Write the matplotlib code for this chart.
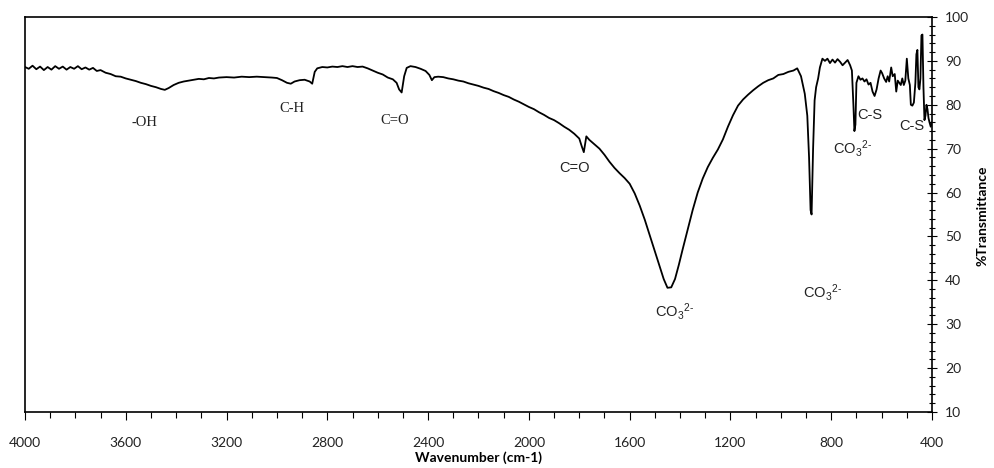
import matplotlib
matplotlib.use("Agg")
import matplotlib.pyplot as plt
from matplotlib.ticker import MultipleLocator

plt.rcParams['mathtext.fontset'] = 'custom'
plt.rcParams['mathtext.rm'] = 'Liberation Sans'
plt.rcParams['mathtext.it'] = 'Liberation Sans:italic'
plt.rcParams['mathtext.default'] = 'rm'

wavenumber = [4000, 3985, 3970, 3955, 3940, 3925, 3910, 3895, 3880, 3865, 3850, 3835, 3820, 3805,
              3790, 3775, 3760, 3745, 3730, 3715, 3700, 3680, 3660, 3640, 3620, 3600, 3580, 3560,
              3540, 3520, 3500, 3480, 3460,
              3445, 3430, 3410, 3390, 3370, 3350, 3330, 3310, 3290, 3270, 3250, 3230, 3200, 3170,
              3140, 3110, 3080, 3050, 3020, 3000, 2980, 2960, 2945, 2930, 2910, 2890, 2870, 2860,
              2850, 2840, 2820, 2800, 2780, 2760, 2740, 2720, 2700, 2680, 2660, 2640, 2620, 2600,
              2580, 2560, 2540, 2525, 2515, 2505, 2495, 2485, 2470, 2450, 2430, 2410, 2395, 2385,
              2375, 2360, 2340, 2320, 2300, 2280, 2260, 2240, 2220, 2200, 2180, 2160, 2140, 2120,
              2100, 2080, 2060, 2040, 2020, 2000, 1980, 1960, 1940, 1920, 1900, 1880, 1860, 1840,
              1820, 1800, 1790, 1782, 1772, 1760, 1740, 1720, 1700, 1680, 1660, 1640, 1620, 1600,
              1580, 1560, 1540, 1520, 1500, 1480, 1465, 1450, 1435, 1420, 1405, 1390, 1370, 1350,
              1330, 1310, 1290, 1270, 1250, 1230, 1210, 1190, 1170, 1150, 1130, 1110, 1090, 1070,
              1050, 1030, 1010, 990, 970, 950, 935, 920, 905, 895, 888, 882, 878, 872, 866, 860,
              852, 845, 835, 825, 815, 805, 795, 785, 775, 765, 755, 745, 735, 725, 718, 712, 708,
              704, 700, 692, 684, 676, 668, 660, 652, 644, 636, 628, 620, 612, 604, 598, 590, 582,
              576, 570, 562, 556, 548, 542, 536, 530, 524, 518, 512, 506, 500, 494, 488, 484, 478,
              472, 466, 462, 458, 454, 450, 446, 442, 438, 434, 430, 426, 422, 418, 414, 410, 405, 400]

transmittance = [88.6, 88.2, 88.9, 88.1, 88.7, 87.9, 88.6, 88.0, 88.8, 88.2, 88.7, 88.0, 88.6, 88.2,
                 88.8, 88.1, 88.5, 88.0, 88.4, 87.7, 87.9, 87.3, 87.0, 86.5, 86.4, 86.0, 85.7, 85.4,
                 85.0, 84.7, 84.3, 84.0, 83.6,
                 83.4, 83.8, 84.5, 85.0, 85.3, 85.5, 85.7, 85.9, 85.8, 86.1, 86.0, 86.2, 86.3, 86.2,
                 86.4, 86.3, 86.4, 86.3, 86.2, 86.1, 85.6, 85.0, 84.8, 85.3, 85.6, 85.7, 85.3, 84.8,
                 87.5, 88.3, 88.6, 88.5, 88.7, 88.6, 88.8, 88.6, 88.8, 88.6, 88.7, 88.3, 87.8, 87.3,
                 86.9, 86.2, 85.8, 85.0, 83.5, 82.8, 86.5, 88.4, 88.8, 88.6, 88.2, 87.7, 86.8, 85.6,
                 86.3, 86.4, 86.3, 86.0, 85.8, 85.5, 85.3, 84.9, 84.6, 84.3, 83.9, 83.6, 83.1, 82.7,
                 82.2, 81.8, 81.2, 80.7, 80.1, 79.5, 79.0, 78.3, 77.7, 77.0, 76.5, 75.8, 75.0, 74.3,
                 73.4, 72.3, 70.5, 69.2, 72.8, 72.0, 71.0, 70.0, 68.6, 67.0, 65.6, 64.4, 63.3, 62.0,
                 59.8, 57.0, 53.8, 50.2, 46.6, 43.0, 40.3, 38.3, 38.4, 40.3, 43.5, 47.0, 51.5, 56.0,
                 60.0, 63.2, 65.8, 67.9, 69.8, 72.1, 75.0, 77.6, 79.8, 81.2, 82.3, 83.3, 84.2, 85.0,
                 85.6, 86.0, 86.8, 87.0, 87.5, 87.8, 88.3, 86.5, 82.5, 77.5, 68.0, 56.0, 55.0, 70.0,
                 81.0, 84.0, 86.0, 88.5, 90.5, 90.0, 90.5, 89.5, 90.3, 89.6, 90.4, 89.8, 89.0, 89.6,
                 90.2, 89.0, 87.8, 80.0, 74.0, 75.5, 85.0, 86.5, 85.7, 86.0, 85.3, 85.8, 84.6, 85.0,
                 83.0, 82.0, 83.5, 86.0, 87.8, 87.2, 86.0, 85.2, 86.5, 85.3, 88.5, 86.5, 87.0, 83.0,
                 85.5, 85.0, 84.5, 86.0, 84.5, 85.5, 90.5, 86.0, 84.5, 80.0, 79.8, 80.5, 85.0, 91.5,
                 92.5, 84.0, 83.5, 86.0, 95.8, 96.0, 84.0, 76.5, 77.5, 80.0, 79.0, 77.0, 76.0, 75.0, 76.0]

label_texts = ["-OH", "C-H", "C=O", "C=O", r"CO$_3$$^{2\text{-}}$", r"CO$_3$$^{2\text{-}}$",
               r"CO$_3$$^{2\text{-}}$", "C-S", "C-S"]
label_x = [3524, 2940, 2532, 1817, 1421, 833, 714, 647, 480]
label_y = [76.0, 79.2, 76.5, 65.6, 32.8, 37.3, 70.1, 77.7, 75.2]
label_serif = [True, True, True, False, False, False, False, False, False]

fig = plt.figure(figsize=(9.95, 4.68), dpi=100)
ax = fig.add_axes([0.0251, 0.1197, 0.9116, 0.844])
ax.plot(wavenumber, transmittance, color='black', lw=1.3)
ax.set_xlim(4000, 400)
ax.set_ylim(10, 100)

ax.xaxis.set_major_locator(MultipleLocator(400))
ax.xaxis.set_minor_locator(MultipleLocator(100))
ax.yaxis.set_major_locator(MultipleLocator(10))
ax.yaxis.set_minor_locator(MultipleLocator(2))
ax.yaxis.tick_right()

ax.tick_params(axis='x', which='major', direction='out', length=6, width=0.8, pad=12, labelsize=10)
ax.tick_params(axis='x', which='minor', direction='out', length=4, width=0.8)
ax.tick_params(axis='y', which='major', direction='inout', length=7, width=0.8, pad=6, labelsize=10)
ax.tick_params(axis='y', which='minor', direction='inout', length=4, width=0.8)
for lab in ax.get_xticklabels() + ax.get_yticklabels():
    lab.set_fontfamily('Lato')
    lab.set_color('#222222')

for s in ax.spines.values():
    s.set_linewidth(1.2)
    s.set_color('black')

ax.set_xlabel('Wavenumber (cm-1)', fontfamily='Lato', fontweight='bold', fontsize=10, labelpad=2)
fig.text(983 / 995, 1 - 216 / 468, '%Transmittance', fontfamily='Lato', fontweight='bold',
         fontsize=10, rotation=90, ha='center', va='center')

for t, x, y, serif in zip(label_texts, label_x, label_y, label_serif):
    ax.text(x, y, t, ha='center', va='center', fontsize=10.5,
            fontfamily='Liberation Serif' if serif else 'Liberation Sans', color='#222222')

fig.savefig('out.png', dpi=100)
